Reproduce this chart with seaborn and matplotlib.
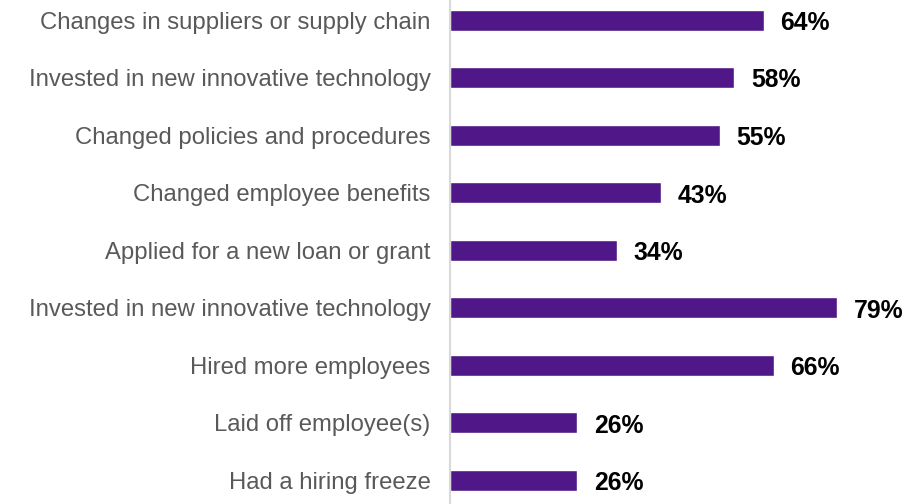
import matplotlib
matplotlib.use("Agg")
import matplotlib.pyplot as plt
import seaborn as sns
import pandas as pd

actions = [
    "Changes in suppliers or supply chain",
    "Invested in new innovative technology",
    "Changed policies and procedures",
    "Changed employee benefits",
    "Applied for a new loan or grant",
    "Invested in new innovative technology",
    "Hired more employees",
    "Laid off employee(s)",
    "Had a hiring freeze",
]
shares = [64, 58, 55, 43, 34, 79, 66, 26, 26]

sns.set_theme(style="white")
plt.rcParams["font.family"] = ["Liberation Sans", "DejaVu Sans"]

# Unique row keys so repeated action names stay separate bars
df = pd.DataFrame({"row": [str(i) for i in range(len(actions))], "pct": shares})

fig = plt.figure(figsize=(9.23, 5.04), dpi=100)
ax = fig.add_axes([450 / 923, 0, 1 - 450 / 923, 1])

sns.barplot(data=df, x="pct", y="row", orient="h", color="#4F1787",
            saturation=1, width=0.365, ax=ax)

ax.set_xlim(0, 96.5)
ax.set_ylim(8.41, -0.35)
ax.set_yticks(range(len(actions)))
ax.set_yticklabels(actions, fontsize=17.2, color="#595959")
ax.tick_params(axis="y", length=0, pad=14)
ax.set_xticks([])
ax.set_xlabel("")
ax.set_ylabel("")

for s in ["top", "right", "bottom"]:
    ax.spines[s].set_visible(False)
ax.spines["left"].set_color("#D9D9D9")
ax.spines["left"].set_linewidth(1.5)

for i, v in enumerate(shares):
    ax.annotate(f"{v}%", xy=(v, i), xytext=(12, -2), textcoords="offset points",
                va="center", ha="left", fontsize=17.8, fontweight="bold",
                color="black")

fig.savefig("out.png", dpi=100)
